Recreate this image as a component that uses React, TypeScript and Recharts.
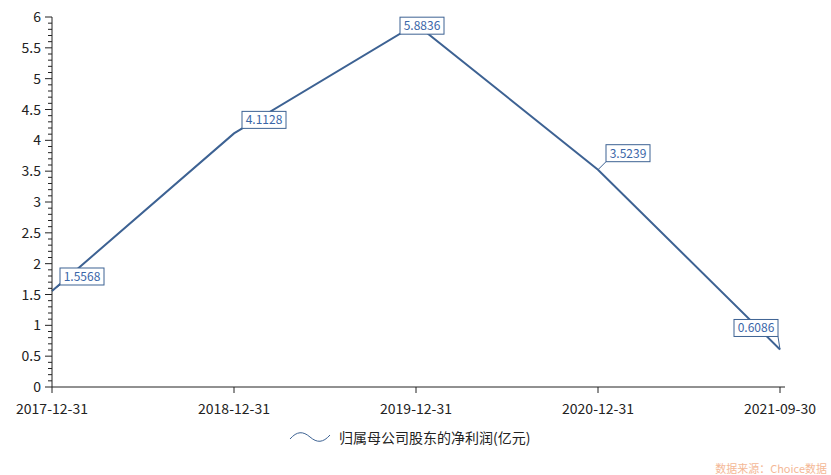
import React from 'react'
import { LineChart, Line, XAxis, YAxis, LabelList } from 'recharts'

const dates = ['2017-12-31', '2018-12-31', '2019-12-31', '2020-12-31', '2021-09-30']
const profit = [1.5568, 4.1128, 5.8836, 3.5239, 0.6086]
const yTicks = Array.from({ length: 61 }, (_, i) => i / 10)

const data = dates.map((d, i) => ({ date: d, value: profit[i] }))

// label box offsets from the point (top-left corner of box)
const boxOffsets = [
  [8, -23],
  [8, -22],
  [-16, -7],
  [8, -25],
  [-46, -30],
]

const font = '"Noto Sans CJK SC", "Open Sans", sans-serif'
const lineColor = '#3d6293'

function YTick(props: any) {
  const { y, payload } = props
  const v = payload.value
  const major = Math.abs(v * 2 - Math.round(v * 2)) < 1e-6
  return (
    <g>
      <line x1={52 - (major ? 7 : 4)} x2={52} y1={y} y2={y} stroke="#222" />
      {major && (
        <text x={41} y={y} dy={5} textAnchor="end" fontSize={14} fill="#222" fontFamily={font}>
          {Number(v.toFixed(1))}
        </text>
      )}
    </g>
  )
}

function XTick(props: any) {
  const { x, payload } = props
  return (
    <g>
      <line x1={x} x2={x} y1={387} y2={393} stroke="#222" />
      <text x={x} y={414} textAnchor="middle" fontSize={14} fill="#222" fontFamily={font}>
        {payload.value}
      </text>
    </g>
  )
}

function BoxLabel(props: any) {
  const { x, y, value, index } = props
  const [dx, dy] = boxOffsets[index]
  const bx = x + dx
  const by = y + dy
  const w = 44
  const h = 17
  const tx = Math.min(Math.max(x, bx), bx + w)
  const ty = Math.min(Math.max(y, by), by + h)
  const inside = x >= bx && x <= bx + w && y >= by && y <= by + h
  return (
    <g>
      {!inside && <line x1={x} y1={y} x2={tx} y2={ty} stroke={lineColor} strokeWidth={1} />}
      <rect x={bx} y={by} width={w} height={h} fill="#fff" stroke={lineColor} strokeWidth={1} />
      <text x={bx + w / 2} y={by + 13} textAnchor="middle" fontSize={12} fill="#3a66a8" fontFamily={font}>
        {value}
      </text>
    </g>
  )
}

export default function App() {
  return (
    <div style={{ position: 'absolute', left: 0, top: 0, width: 831, height: 475, background: '#fff' }}>
      <LineChart width={831} height={475} data={data} margin={{ top: 17, right: 46, bottom: 0, left: 0 }}>
        <XAxis
          dataKey="date"
          stroke="#222"
          height={88}
          tick={<XTick />}
          tickLine={false}
          interval={0}
          padding={{ left: 0, right: 5 }}
        />
        <YAxis
          domain={[0, 6]}
          ticks={yTicks}
          interval={0}
          width={52}
          stroke="#222"
          tickLine={false}
          tick={<YTick />}
        />
        <Line
          type="linear"
          dataKey="value"
          stroke={lineColor}
          strokeWidth={2}
          dot={false}
          isAnimationActive={false}
        >
          <LabelList dataKey="value" content={<BoxLabel />} />
        </Line>
      </LineChart>
      <div
        style={{
          position: 'absolute',
          left: 289,
          top: 427,
          display: 'flex',
          alignItems: 'center',
          fontFamily: font,
          fontSize: 14,
          color: '#222',
        }}
      >
        <svg width={42} height={14} style={{ marginRight: 8 }}>
          <path d="M1,9 C8,1 14,1 21,7 C28,13 34,13 41,5" fill="none" stroke={lineColor} strokeWidth={1} />
        </svg>
        <span>归属母公司股东的净利润(亿元)</span>
      </div>
      <div
        style={{
          position: 'absolute',
          right: 4,
          top: 460,
          fontFamily: font,
          fontSize: 11,
          color: '#f4b896',
        }}
      >
        数据来源：Choice数据
      </div>
    </div>
  )
}
